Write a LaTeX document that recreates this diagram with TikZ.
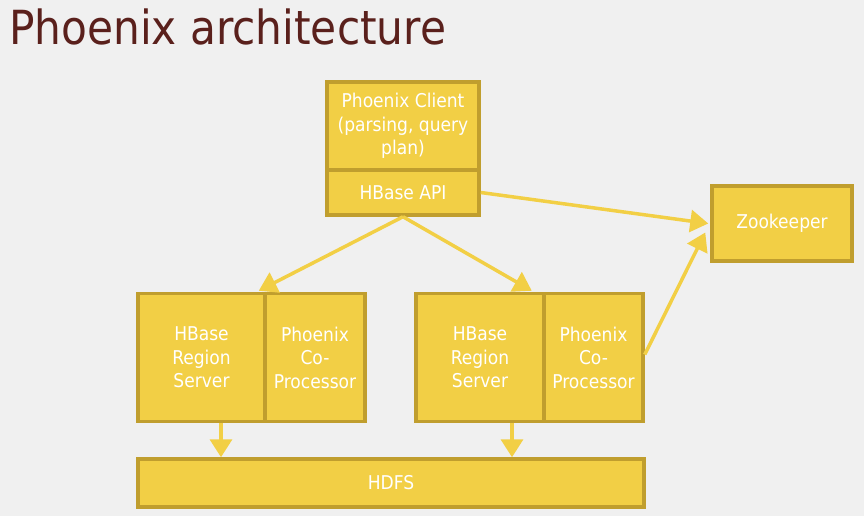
\documentclass[tikz,border=0pt]{standalone}
\usepackage{fontspec}
\setmainfont{DejaVu Sans Condensed}
\usetikzlibrary{arrows.meta,calc}
\definecolor{bg}{RGB}{240,240,240}
\definecolor{boxfill}{RGB}{242,207,69}
\definecolor{boxline}{RGB}{192,158,46}
\definecolor{titlecol}{RGB}{90,32,28}
\tikzset{
  box/.style={draw=boxline, line width=3.5pt, fill=boxfill, text=white, align=center,
    inner sep=0pt, font=\fontsize{19}{23.5}\selectfont},
  conn/.style={draw=boxfill, line width=3.5pt, -{Triangle[width=22pt,length=18pt]}}
}
\begin{document}
\begin{tikzpicture}[x=1pt,y=-1pt]
\fill[bg] (0,0) rectangle (864,516);
\useasboundingbox (0,0) rectangle (864,516);
\node[anchor=base west, text=titlecol, inner sep=0pt, font=\fontsize{47}{52}\selectfont] (title) at (9,45) {Phoenix architecture};
% client
\node[box, minimum width=152pt, minimum height=88pt] (client) at (403,126) {Phoenix Client\\(parsing, query\\plan)};
\node[box, minimum width=152pt, minimum height=45pt] (api) at (403,192.5) {HBase API};
% zookeeper
\node[box, minimum width=140pt, minimum height=75pt] (zk) at (782,223.5) {Zookeeper};
% region servers
\node[box, minimum width=127pt, minimum height=128pt] (rs1) at (201.5,357.5) {HBase\\Region\\Server};
\node[box, minimum width=100pt, minimum height=128pt] (cp1) at (315,357.5) {Phoenix\\Co-\\Processor};
\node[box, minimum width=128pt, minimum height=128pt] (rs2) at (480,357.5) {HBase\\Region\\Server};
\node[box, minimum width=99pt, minimum height=128pt] (cp2) at (593.5,357.5) {Phoenix\\Co-\\Processor};
% hdfs
\node[box, minimum width=506pt, minimum height=48pt] (hdfs) at (391,483) {HDFS};
% connectors
\draw[conn] (api.south) -- ($(rs1.north east)+(-8,-1)$);
\draw[conn] (api.south) -- ($(rs2.north east)+(-14,-1)$);
\draw[conn] ($(api.east)+(0,0)$) -- ($(zk.west)+(-2,0)$);
\draw[conn] ($(cp2.east)+(0,-3)$) -- ($(zk.west)+(-5,9)$);
\draw[conn] (rs1.south -| 221,0) -- (hdfs.north -| 221,0);
\draw[conn] (rs2.south -| 512,0) -- (hdfs.north -| 512,0);
\end{tikzpicture}
\end{document}
